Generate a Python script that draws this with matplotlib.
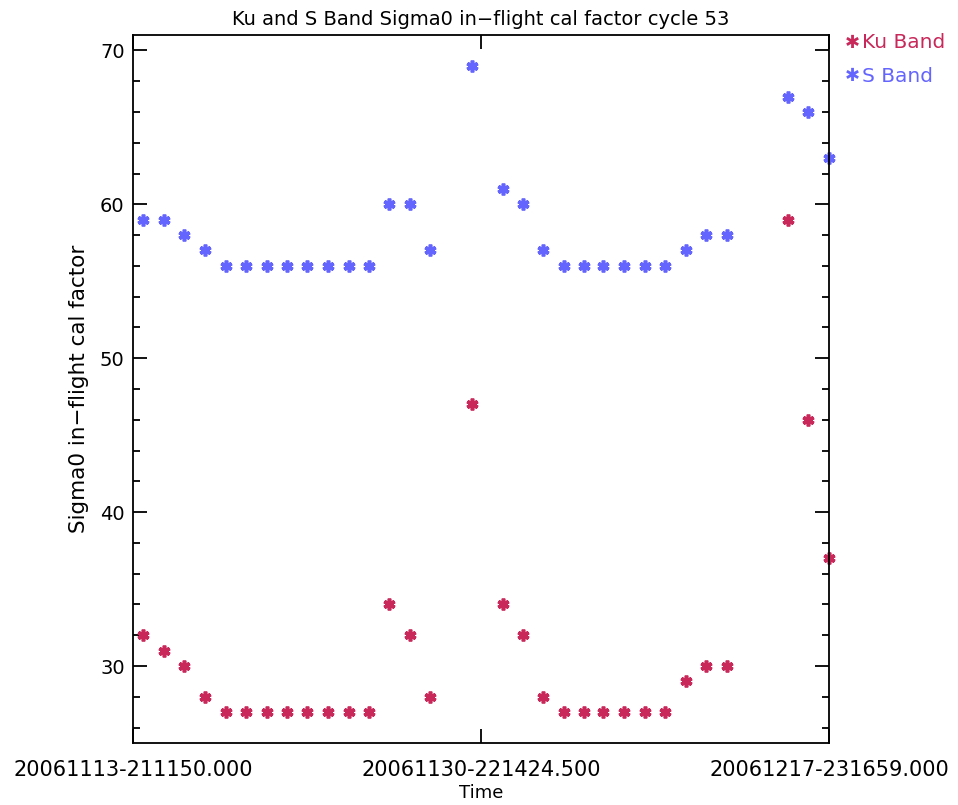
import matplotlib
matplotlib.use("Agg")
import matplotlib.pyplot as plt
import matplotlib.dates as mdates
from matplotlib.ticker import FixedLocator, MultipleLocator, FuncFormatter
from datetime import datetime, timedelta
import numpy as np

title = "Ku and S Band Sigma0 in\u2212flight cal factor cycle 53"
xlabel = "Time"
ylabel = "Sigma0 in\u2212flight cal factor"

axis_start = "2006-11-13 21:11:50"
axis_end = "2006-12-17 23:16:59"

times = [
    "2006-11-14 09:17", "2006-11-15 09:38", "2006-11-16 09:29", "2006-11-17 10:11",
    "2006-11-18 10:10", "2006-11-19 10:01", "2006-11-20 10:21", "2006-11-21 09:52",
    "2006-11-22 10:05", "2006-11-23 10:24", "2006-11-24 10:44", "2006-11-25 10:57",
    "2006-11-26 10:28", "2006-11-27 10:49", "2006-11-28 10:18", "2006-11-30 11:19",
    "2006-12-01 23:44", "2006-12-02 23:57", "2006-12-03 23:29", "2006-12-04 23:49",
    "2006-12-05 23:20", "2006-12-06 22:01", "2006-12-07 22:19", "2006-12-08 23:01",
    "2006-12-09 22:53", "2006-12-10 22:51", "2006-12-11 22:44", "2006-12-12 23:03",
    "2006-12-15 23:28", "2006-12-16 22:59", "2006-12-17 23:16:59",
]
ku_band = [32, 31, 30, 28, 27, 27, 27, 27, 27, 27, 27, 27, 34, 32, 28, 47,
           34, 32, 28, 27, 27, 27, 27, 27, 27, 29, 30, 30, 59, 46, 37]
s_band = [59, 59, 58, 57, 56, 56, 56, 56, 56, 56, 56, 56, 60, 60, 57, 69,
          61, 60, 57, 56, 56, 56, 56, 56, 56, 57, 58, 58, 67, 66, 63]

ku_color = "#c8285a"
s_color = "#6464ff"

def parse(s):
    for fmt in ("%Y-%m-%d %H:%M:%S", "%Y-%m-%d %H:%M"):
        try:
            return datetime.strptime(s, fmt)
        except ValueError:
            pass

t = [parse(s) for s in times]
t0 = parse(axis_start)
t1 = parse(axis_end)
tmid = t0 + (t1 - t0) / 2

fig = plt.figure(figsize=(9.58, 8.05), dpi=100)
ax = fig.add_axes([133/958, 62/805, (829-133)/958, (743-35)/805])

mk = dict(marker=(6, 2, 0), linestyle="none", markersize=8.5, markeredgewidth=2.6)
ax.plot(t, ku_band, color=ku_color, **mk, clip_on=False)
ax.plot(t, s_band, color=s_color, **mk, clip_on=False)

ax.set_xlim(mdates.date2num(t0), mdates.date2num(t1))
ax.set_ylim(25, 71)

xt = [mdates.date2num(d) for d in (t0, tmid, t1)]
ax.xaxis.set_major_locator(FixedLocator(xt))

def fmt_date(x, pos):
    d = mdates.num2date(x).replace(tzinfo=None)
    ms = int(round(d.microsecond / 1000.0))
    d = d.replace(microsecond=0) + timedelta(milliseconds=ms)
    return d.strftime("%Y%m%d-%H%M%S") + ".%03d" % (d.microsecond // 1000)

ax.xaxis.set_major_formatter(FuncFormatter(fmt_date))
ax.yaxis.set_major_locator(MultipleLocator(10))
ax.yaxis.set_minor_locator(MultipleLocator(2))

ax.tick_params(axis="both", which="both", direction="in", top=True, right=True,
               width=1.3, colors="black")
ax.tick_params(axis="x", which="major", labelsize=15, pad=12)
ax.tick_params(axis="y", which="major", labelsize=14, pad=6)
ax.tick_params(axis="both", which="major", length=10)
ax.tick_params(axis="y", which="minor", length=5)
for sp in ax.spines.values():
    sp.set_linewidth(1.3)

ax.set_title(title, fontsize=14, pad=7)
ax.set_xlabel(xlabel, fontsize=13, labelpad=3)
ax.set_ylabel(ylabel, fontsize=15.5, labelpad=8)

# legend outside right
fig.text(852/958, 1 - 43/805, "\u2731", color=ku_color, fontsize=13, ha="center", va="center")
fig.text(862/958, 1 - 43/805, "Ku Band", color=ku_color, fontsize=14.5, ha="left", va="center")
fig.text(852/958, 1 - 76/805, "\u2731", color=s_color, fontsize=13, ha="center", va="center")
fig.text(862/958, 1 - 76/805, "S Band", color=s_color, fontsize=14.5, ha="left", va="center")

fig.savefig("out.png", dpi=100, facecolor="white")
